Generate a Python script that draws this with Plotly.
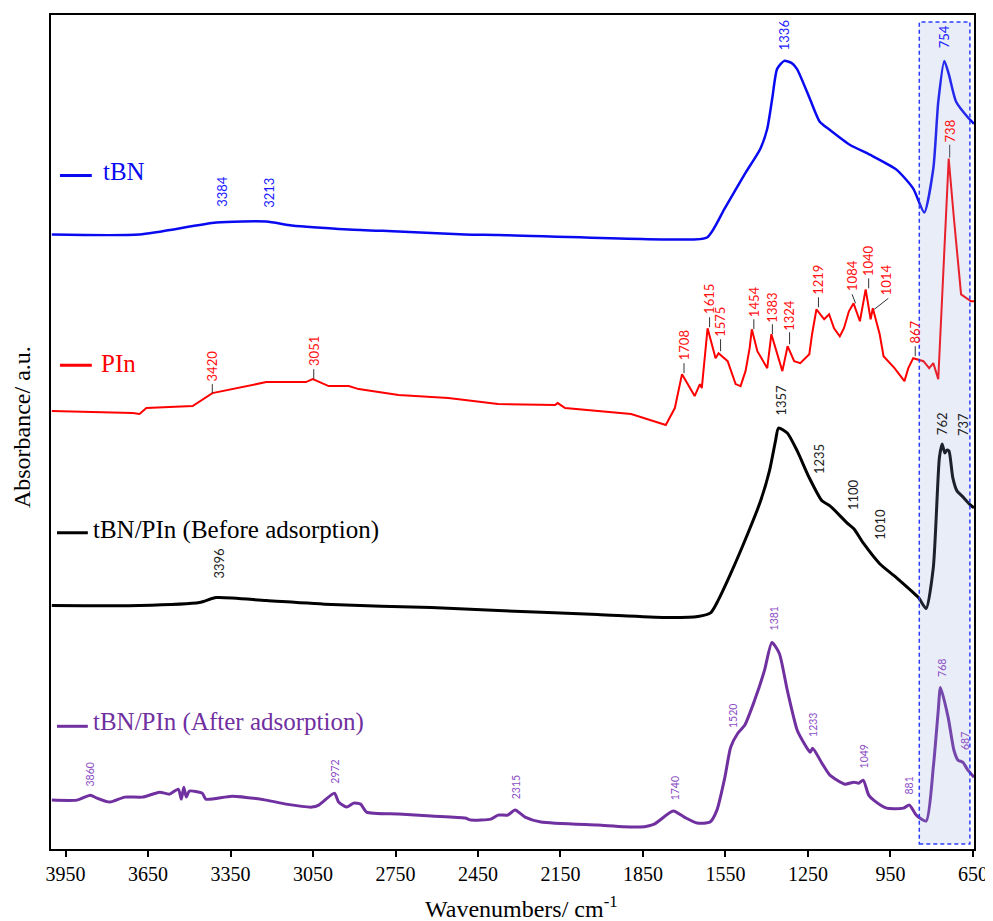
import plotly.graph_objects as go

# ---------------- data (absorbance in arbitrary offset units) ----------------
tbn_wn = [4000, 3681, 3402, 3220, 3127, 2920, 2739, 2497, 2377, 1751, 1617, 1553, 1481, 1423, 1398,
          1380, 1362, 1336, 1310, 1290, 1243, 1207, 1171, 1098, 1025, 928, 867, 827, 794, 776, 754, 737,
          711, 664, 646]
tbn_abs = [616, 616, 628, 629, 625, 621, 619, 616, 615.5, 611, 613, 642, 676, 702, 722,
           752, 782, 790, 788, 782, 752, 729, 721, 706, 696, 681, 662, 638, 682, 749, 790, 776,
           749, 732, 727]

pin_wn = [4000, 3706, 3681, 3656, 3488, 3416, 3220, 3076, 3051, 2993, 2920, 2884, 2739, 2558, 2377,
          2170, 2160, 2133, 1893, 1767, 1734, 1708, 1662, 1643, 1636, 1615, 1586, 1575, 1542, 1513,
          1495, 1477, 1462, 1454, 1434, 1398, 1383, 1343, 1324, 1300, 1278, 1245, 1235, 1219, 1191,
          1173, 1155, 1134, 1119, 1101, 1084, 1061, 1040, 1022, 1014, 989, 975, 935, 899, 885,
          867, 830, 809, 794, 776, 755, 738, 719, 693, 657, 646]
pin_abs = [439, 437, 436, 442, 444, 457, 468, 468, 471, 464, 464, 461, 455, 452, 446,
           445, 447, 442, 436, 425, 442, 476, 454, 466, 462, 522, 492, 497, 489, 466,
           464, 479, 502, 521, 499, 482, 516, 479, 504, 489, 487, 496, 516, 541, 531,
           536, 522, 514, 522, 539, 547, 529, 561, 531, 542, 516, 494, 482, 469, 482,
           492, 489, 482, 487, 471, 599, 692, 632, 556, 549, 549]

before_wn = [4000, 3681, 3463, 3402, 3220, 2982, 2620, 2377, 2015, 1769, 1650, 1603, 1577, 1531, 1469,
             1422, 1390, 1368, 1357, 1325, 1289, 1245, 1199, 1170, 1108, 1083, 1047, 989, 928, 848,
             820, 794, 772, 762, 752, 744, 737, 723, 708, 690, 660, 646]
before_abs = [244, 244, 247, 252, 249, 245, 242, 239, 235, 232, 233, 237, 249, 276, 316,
              349, 379, 409, 422, 417, 399, 372, 349, 344, 327, 321, 306, 286, 272, 252,
              241, 282, 392, 406, 397, 400, 399, 372, 359, 354, 345, 342]

after_wn = [4000, 3909, 3860, 3836, 3789, 3735, 3670, 3608, 3572, 3540, 3529, 3520, 3511, 3500, 3453,
            3440, 3344, 3221, 3148, 3054, 3029, 2972, 2957, 2928, 2902, 2877, 2855, 2739, 2620, 2497,
            2475, 2403, 2377, 2342, 2315, 2279, 2221, 2015, 1859, 1809, 1740, 1700, 1653, 1606, 1581,
            1552, 1531, 1505, 1480, 1444, 1408, 1381, 1354, 1325, 1289, 1264, 1242, 1233, 1199, 1170,
            1116, 1083, 1065, 1049, 1029, 1011, 964, 903, 881, 856, 820, 794, 776, 768, 740,
            719, 704, 687, 668, 646]
after_abs = [49, 49, 54, 51, 47, 52, 52, 57, 55, 60, 50, 62, 52, 58, 56,
             50, 53, 49, 45, 42, 44, 56, 47, 42, 46, 45, 37, 35, 33, 31,
             29, 30, 34, 34, 39, 32, 27, 24, 22, 25, 38, 32, 26, 27, 39,
             72, 102, 116, 124, 149, 179, 207, 196, 159, 119, 106, 97, 101, 86, 74,
             65, 67, 66, 69, 54, 49, 41, 41, 44, 34, 28, 82, 139, 162, 132,
             99, 89, 87, 79, 72]

series_names = ["tBN", "PIn", "tBN/PIn (Before adsorption)", "tBN/PIn (After adsorption)"]

# peak labels
tbn_peaks = [3384, 3213, 1336, 754]
tbn_peak_y = [659, 658, 816, 814]
tbn_shift = [0, 0, 0, 0]

pin_peaks = [3420, 3051, 1708, 1615, 1575, 1454, 1383, 1324, 1219, 1084, 1040, 1014, 867, 738]
pin_peak_y = [484, 499, 505, 551, 528, 549, 543, 535, 571, 575, 590, 571, 518, 720]
pin_shift = [1, 1, 2, 2, 2, 2, 1, 2, 2, -1, 3, 14, 2, 1]
pin_lead_lo = [457, 471, 477, 523, 499, 521, 516, 506, 543, 547, 562, 541, 494, 693]
pin_lead_hi = [466, 481, 487, 533, 511, 531, 526, 518, 553, 556, 572, 552, 504, 706]
pin_lead_xlo = [1, 1, 2, 2, 2, 2, 1, 2, 2, 2, 3, 1.5, 2, 1]
pin_lead_xhi = [1, 1, 2, 2, 2, 2, 1, 2, 2, -1.5, 3, 15.5, 2, 1]

before_peaks = [1357, 1235, 1100, 1010, 762, 737, 3396]
before_peak_y = [450, 391, 355, 326, 426, 426, 286]
before_shift = [3, 7, 4, 6, 0, 14, 1]

after_peaks = [3860, 2972, 2315, 1740, 1520, 1381, 1233, 1049, 881, 768, 687]
after_peak_y = [75, 78, 62, 61, 133, 231, 124, 93, 64, 182, 108]
after_shift = [0, 1, 1, 2, 0, 2, 1, 1, 0, 2, 3]

x_ticks = [3950, 3650, 3350, 3050, 2750, 2450, 2150, 1850, 1550, 1250, 950, 650]
highlight_range = [845, 661]

# ---------------- figure ----------------
line_colors = ["#0a0af0", "#ff0000", "#000000", "#7030a0"]
label_colors = ["#1a1aff", "#ff1010", "#222222", "#8a4cc4"]
widths = [2.5, 2, 3, 3]
shapes_kind = ["spline", "linear", "spline", "spline"]

fig = go.Figure()
for wn, ab, name, col, w, shp in zip([tbn_wn, pin_wn, before_wn, after_wn],
                                     [tbn_abs, pin_abs, before_abs, after_abs],
                                     series_names, line_colors, widths, shapes_kind):
    line = dict(color=col, width=w, shape=shp)
    if shp == "spline":
        line["smoothing"] = 0.6
    fig.add_trace(go.Scatter(x=wn, y=ab, mode="lines", name=name, line=line, showlegend=False))

annotations = []
shapes = []

label_font = "Lato"
for peaks, ys, shifts, col, size in [
        (tbn_peaks, tbn_peak_y, tbn_shift, label_colors[0], 13),
        (pin_peaks, pin_peak_y, pin_shift, label_colors[1], 13),
        (before_peaks, before_peak_y, before_shift, label_colors[2], 13),
        (after_peaks, after_peak_y, after_shift, label_colors[3], 10.5)]:
    for p, yv, s in zip(peaks, ys, shifts):
        annotations.append(dict(x=p, y=yv, xref="x", yref="y", text=str(p), showarrow=False,
                                textangle=-90, xanchor="center", yanchor="middle", xshift=s,
                                font=dict(family=label_font, size=size, color=col)))

for p, lo, hi, xlo, xhi in zip(pin_peaks, pin_lead_lo, pin_lead_hi, pin_lead_xlo, pin_lead_xhi):
    shapes.append(dict(type="line", xref="x", yref="y", xsizemode="pixel", xanchor=p,
                       x0=xlo, x1=xhi, y0=lo, y1=hi, line=dict(color="#333333", width=1)))

# highlight box
shapes.append(dict(type="rect", xref="x", yref="y", x0=highlight_range[0], x1=highlight_range[1],
                   y0=5, y1=829, fillcolor="rgba(140,165,220,0.2)",
                   line=dict(color="#2a3cff", width=1.5, dash="4px,3px"), layer="above"))

# in-plot legend (line samples + serif labels)
legend_y = [675, 485, 317, 123]
legend_text_y = [679, 487, 320, 127]
legend_x0 = [0.0097, 0.0097, 0.0065, 0.0065]
legend_x1 = [0.0442, 0.0442, 0.0399, 0.0399]
legend_tx = [0.0540, 0.0518, 0.0432, 0.0432]
for name, col, ly, lty, x0, x1, tx in zip(series_names, line_colors, legend_y, legend_text_y,
                                          legend_x0, legend_x1, legend_tx):
    shapes.append(dict(type="line", xref="paper", yref="y", x0=x0, x1=x1, y0=ly, y1=ly,
                       line=dict(color=col, width=3)))
    annotations.append(dict(x=tx, y=lty, xref="paper", yref="y", text=name, showarrow=False,
                            xanchor="left", yanchor="middle",
                            font=dict(family="Liberation Serif", size=25, color=col)))

# axis titles
annotations.append(dict(x=0.51, y=-0.069, xref="paper", yref="paper",
                        text="Wavenumbers/ cm<sup>-1</sup>", showarrow=False,
                        xanchor="center", yanchor="middle",
                        font=dict(family="Liberation Serif", size=24, color="black")))
annotations.append(dict(x=-0.0313, y=0.506, xref="paper", yref="paper",
                        text="Absorbance/ a.u.", showarrow=False, textangle=-90,
                        xanchor="center", yanchor="middle",
                        font=dict(family="Liberation Serif", size=24, color="black")))

# page body has an 8px default margin, so the figure is sized/placed to compensate
fig.update_layout(
    width=985, height=913,
    margin=dict(l=43, r=15, t=5, b=72),
    paper_bgcolor="white", plot_bgcolor="white",
    annotations=annotations, shapes=shapes,
    showlegend=False,
)
fig.update_xaxes(range=[4003, 646], tickvals=x_ticks, ticktext=[str(t) for t in x_ticks],
                 ticks="outside", ticklen=6, tickwidth=2, tickcolor="black",
                 showline=True, linecolor="black", linewidth=2, mirror=True,
                 showgrid=False, zeroline=False,
                 tickfont=dict(family="Liberation Serif", size=20, color="black"))
fig.update_yaxes(range=[0, 836], showticklabels=False, ticks="",
                 showline=True, linecolor="black", linewidth=2, mirror=True,
                 showgrid=False, zeroline=False)

fig.write_html("out.html")
